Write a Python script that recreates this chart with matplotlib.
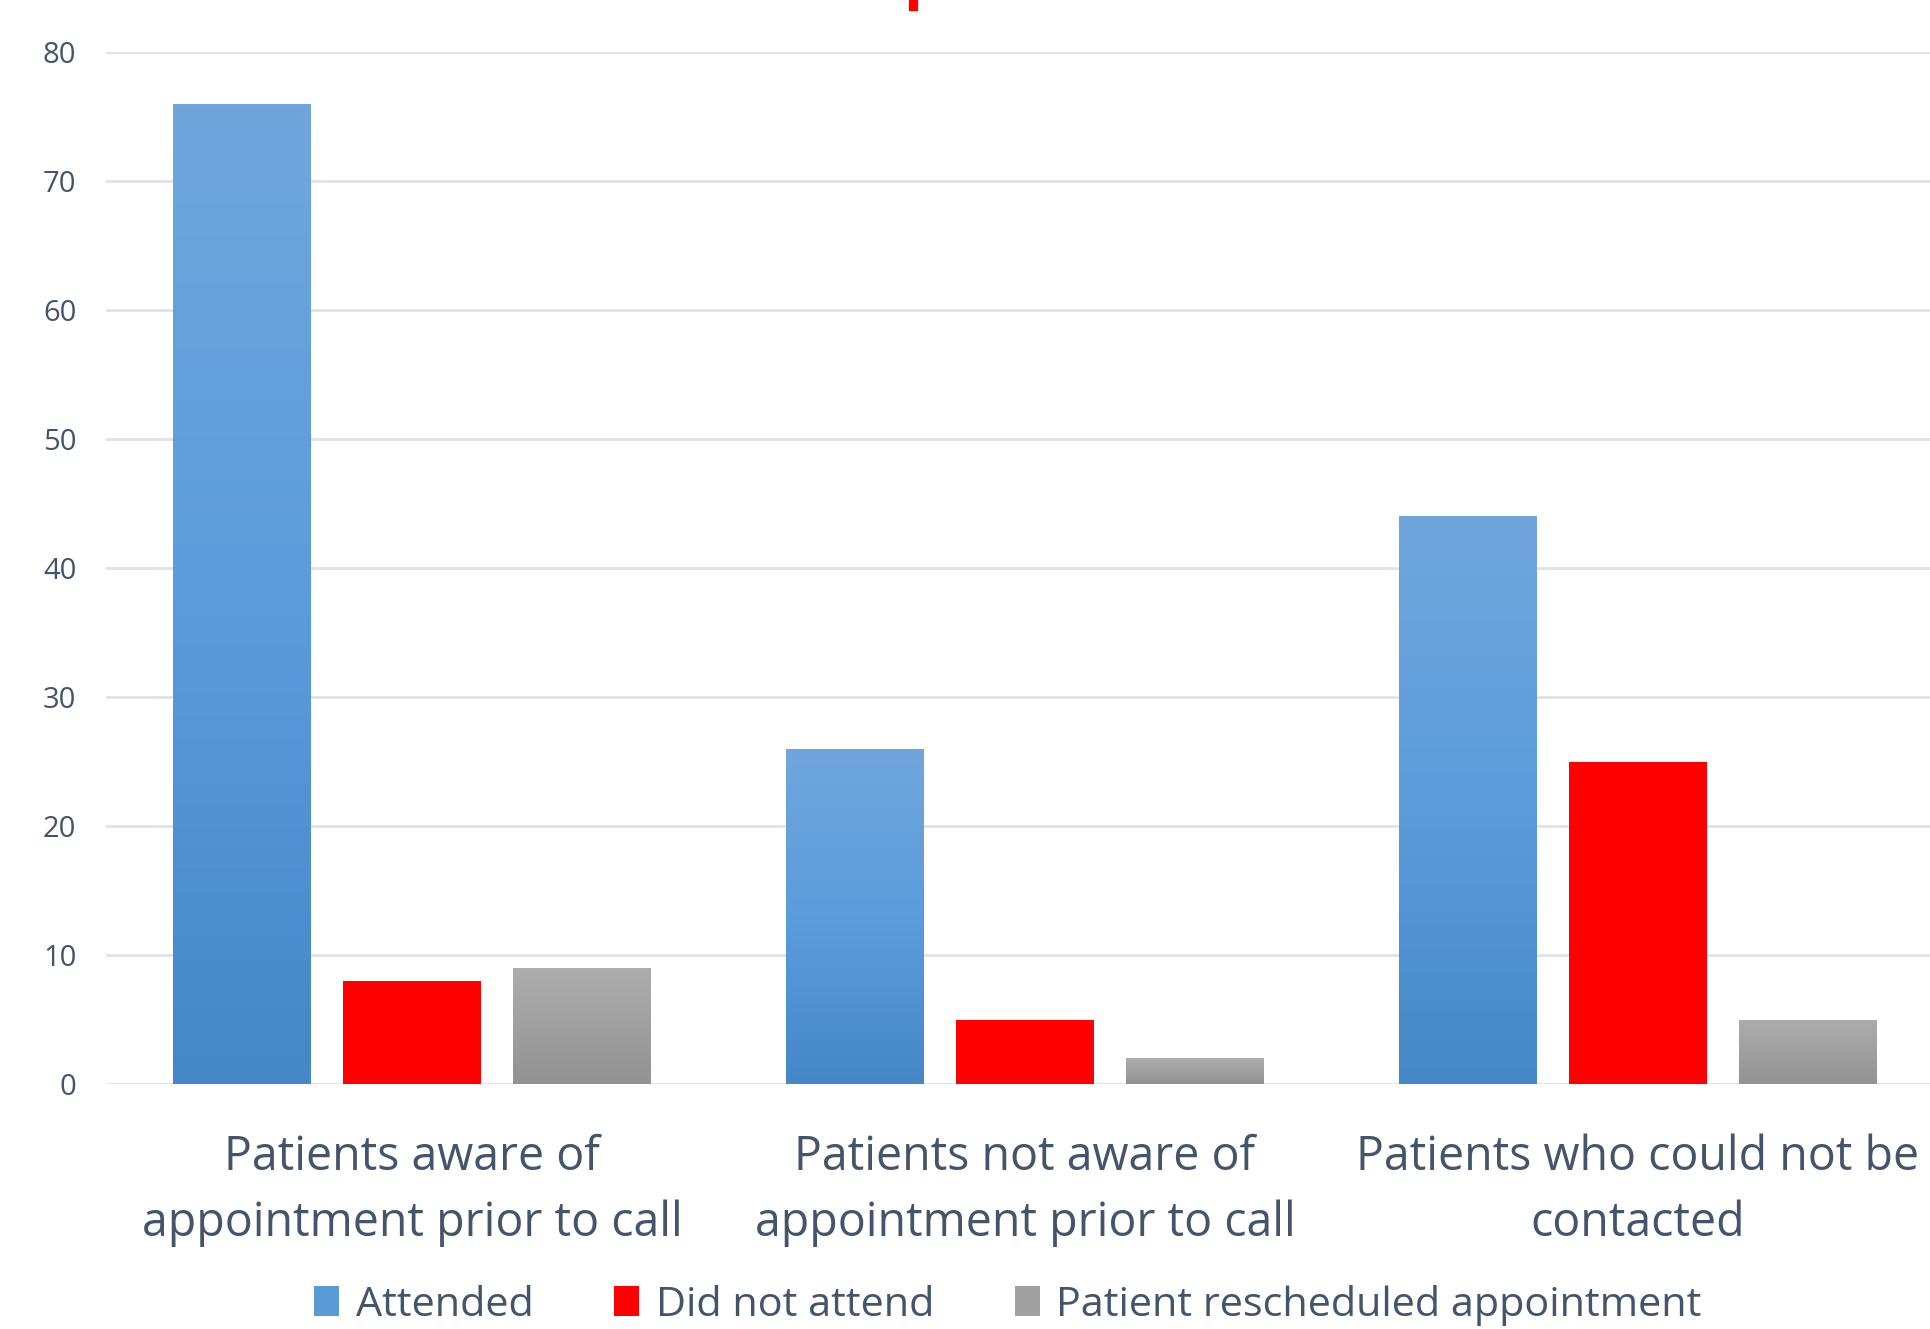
import numpy as np
import matplotlib.pyplot as plt
from matplotlib.colors import LinearSegmentedColormap
from matplotlib.patches import Patch, Rectangle

plt.rcParams['font.family'] = ['Open Sans', 'DejaVu Sans']

categories = ['Patients aware of\nappointment prior to call',
              'Patients not aware of\nappointment prior to call',
              'Patients who could not be\ncontacted']
series = ['Attended', 'Did not attend', 'Patient rescheduled appointment']
attended = [76, 26, 44]
did_not_attend = [8, 5, 25]
rescheduled = [9, 2, 5]
yticks = [0, 10, 20, 30, 40, 50, 60, 70, 80]

text_col = '#44546a'
grid_col = '#dfe3e8'
blue_grad = LinearSegmentedColormap.from_list('b', ['#4488c8', '#5b9cdd', '#71a6dc'])
gray_grad = LinearSegmentedColormap.from_list('g', ['#929292', '#a0a0a0', '#adadad'])

fig = plt.figure(figsize=(19.3, 13.29), dpi=100)
ax = fig.add_axes([105.5 / 1930, 1 - 1084 / 1329, 1839 / 1930, (1084 - 52) / 1329])

x = np.arange(len(categories))
step = 0.277
width = 0.225


def gradient_bars(bars, cmap):
    grad = np.linspace(0, 1, 256).reshape(-1, 1)
    for b in bars:
        bx, by = b.get_x(), b.get_y()
        bw, bh = b.get_width(), b.get_height()
        im = ax.imshow(grad, cmap=cmap, origin='lower', aspect='auto',
                       extent=[bx, bx + bw, by, by + bh], zorder=2)
        im.set_clip_path(b)
        b.set_facecolor('none')


b1 = ax.bar(x - step, attended, width, color='#5b9bd5', zorder=2)
b2 = ax.bar(x, did_not_attend, width, color='#ff0000', zorder=2)
b3 = ax.bar(x + step, rescheduled, width, color='#a0a0a0', zorder=2)
gradient_bars(b1, blue_grad)
gradient_bars(b3, gray_grad)

ax.set_xlim(-0.5, 2.5)
ax.set_ylim(0, 80)
ax.set_yticks(yticks)
ax.yaxis.grid(True, color=grid_col, linewidth=2)
ax.set_axisbelow(True)
for s in ax.spines.values():
    s.set_visible(False)
ax.tick_params(axis='y', length=0, pad=21, labelsize=21, labelcolor=text_col)
ax.tick_params(axis='x', length=0, pad=36, labelsize=33.5, labelcolor=text_col)
ax.set_xticks(x)
ax.set_xticklabels(categories, linespacing=1.5)

handles = [Patch(facecolor='#5b9bd5'), Patch(facecolor='#ff0000'), Patch(facecolor='#a0a0a0')]
fig.legend(handles, series, loc='center', bbox_to_anchor=(1008 / 1930, 1 - 1305 / 1329),
           ncol=3, frameon=False, fontsize=29.8, labelcolor=text_col,
           handlelength=0.6, handleheight=0.75, handletextpad=0.4, columnspacing=1.95)

# red fragment at the top edge
fig.patches.append(Rectangle((909 / 1930, 1 - 10 / 1329), 8 / 1930, 10 / 1329,
                             transform=fig.transFigure, color='#ff0000'))

fig.savefig('out.png', dpi=100)
